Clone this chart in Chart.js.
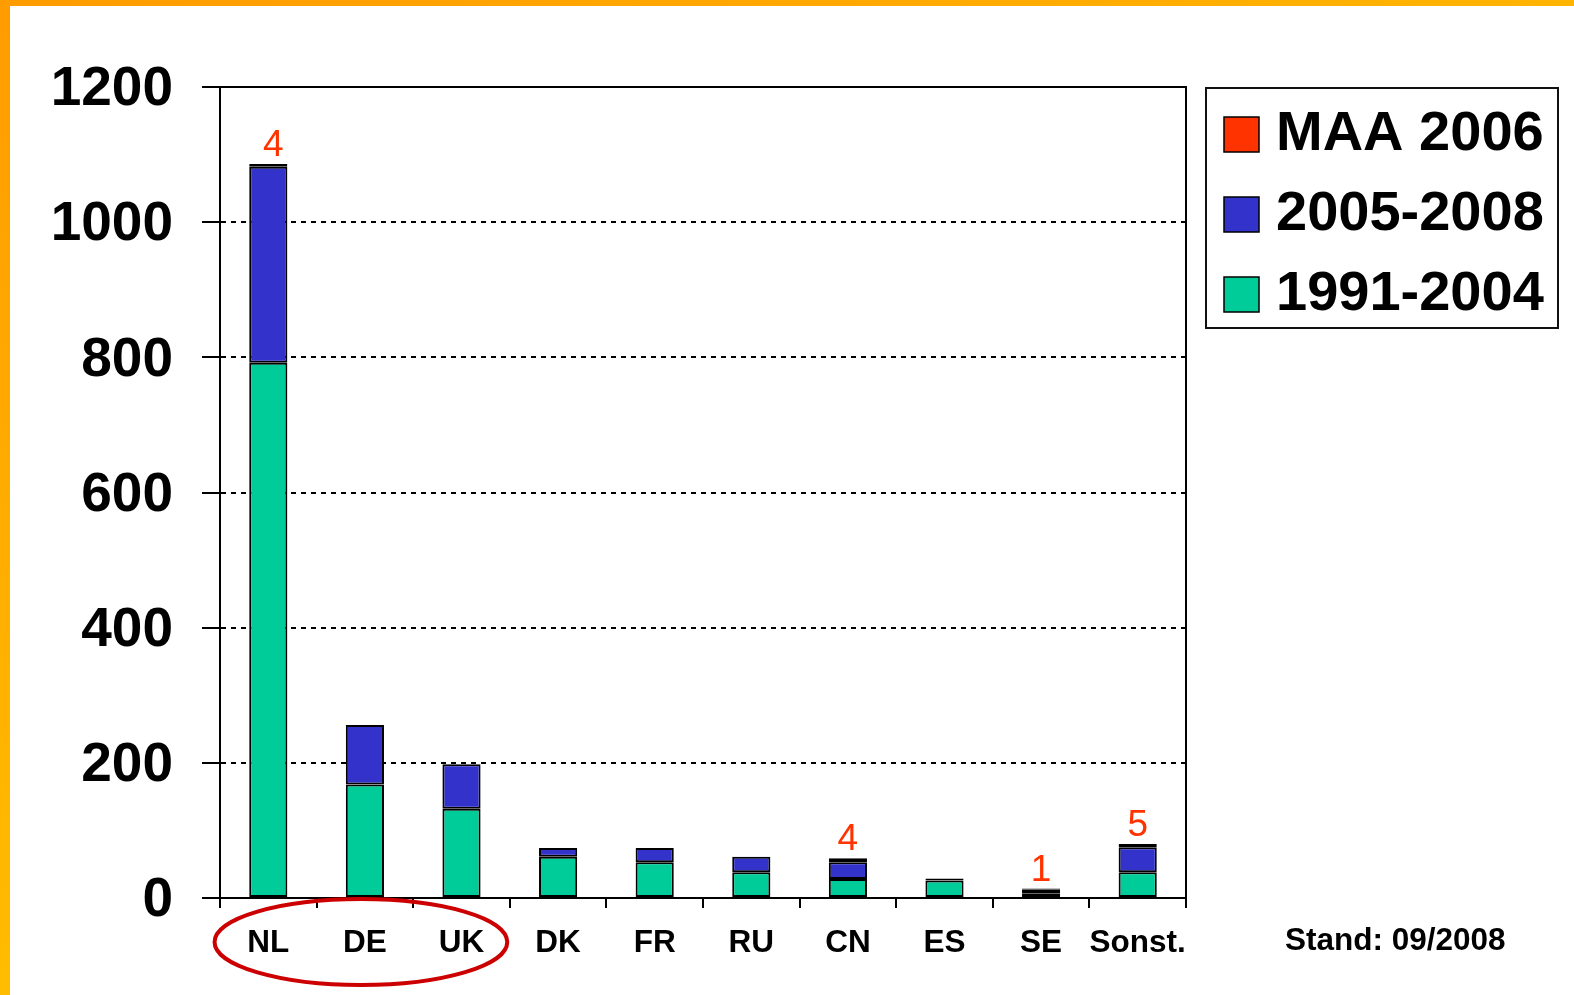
<!DOCTYPE html>
<html>
<head>
<meta charset="utf-8">
<style>
html,body{margin:0;padding:0;background:#fff;overflow:hidden}
canvas{display:block}
</style>
<script src="https://cdn.jsdelivr.net/npm/chart.js@4/dist/chart.umd.min.js"></script>
</head>
<body>
<canvas id="c" width="1574" height="995"></canvas>
<script>
// ---- data ----
const categories = ['NL','DE','UK','DK','FR','RU','CN','ES','SE','Sonst.'];
const series1991_2004 = [792,168,132,61,53,38,28,26,7,38];
const series2005_2008 = [290,88,66,13,21,23,25,3,6,37];
const seriesMAA2006 = [4,0,0,0,0,0,6,0,1,5];
const maaLabels = ['4','','','','','','4','','1','5'];
const seriesNames = ['1991-2004','2005-2008','MAA 2006'];
const seriesColors = ['#00CC99','#3333CC','#FF3300'];
const yMin = 0, yMax = 1200, yStep = 200;
const standText = 'Stand: 09/2008';

const FONT = "'Liberation Sans', Arial, sans-serif";

const decorPlugin = {
  id: 'decor',
  beforeDraw(chart) {
    const ctx = chart.ctx, W = chart.width, H = chart.height;
    ctx.save();
    ctx.fillStyle = '#fff';
    ctx.fillRect(0, 0, W, H);
    let g = ctx.createLinearGradient(0, 0, W, 0);
    g.addColorStop(0, '#FF9C00'); g.addColorStop(1, '#FFB400');
    ctx.fillStyle = g;
    ctx.fillRect(0, 0, W, 6);
    g = ctx.createLinearGradient(0, 0, 0, H);
    g.addColorStop(0, '#FF9C00'); g.addColorStop(1, '#FFBC00');
    ctx.fillStyle = g;
    ctx.fillRect(0, 0, 10, H);
    ctx.restore();
  },
  afterDraw(chart) {
    const ctx = chart.ctx, a = chart.chartArea;
    const xs = chart.scales.x;
    ctx.save();
    // plot frame top + right
    ctx.strokeStyle = '#000';
    ctx.lineWidth = 2;
    ctx.beginPath();
    ctx.moveTo(a.left, a.top);
    ctx.lineTo(a.right, a.top);
    ctx.lineTo(a.right, a.bottom);
    ctx.stroke();

    // MAA count labels above bars
    const topMeta = chart.getDatasetMeta(2);
    ctx.fillStyle = '#FF3300';
    ctx.font = '37px ' + FONT;
    ctx.textAlign = 'center';
    ctx.textBaseline = 'alphabetic';
    maaLabels.forEach((t, i) => {
      if (!t) return;
      const el = topMeta.data[i];
      ctx.fillText(t, el.x + (i === 0 ? 5 : 0), el.y - 8);
    });

    // red ellipse around NL, DE, UK
    const cw = xs.getPixelForValue(1) - xs.getPixelForValue(0);
    const cx = xs.getPixelForValue(1) - 4;
    ctx.strokeStyle = '#CC0000';
    ctx.lineWidth = 4;
    ctx.beginPath();
    ctx.ellipse(cx, a.bottom + 44, cw * 1.515, 43, 0, 0, Math.PI * 2);
    ctx.stroke();

    // legend
    const lx = a.right + 20, ly = a.top + 1, lw = 352, lh = 240;
    ctx.strokeStyle = '#111';
    ctx.lineWidth = 2;
    ctx.strokeRect(lx, ly, lw, lh);
    const order = [2, 1, 0];
    ctx.font = 'bold 56px ' + FONT;
    ctx.textAlign = 'left';
    ctx.textBaseline = 'middle';
    order.forEach((di, r) => {
      const cy = ly + 46 + r * 80;
      ctx.fillStyle = seriesColors[di];
      ctx.fillRect(lx + 18, cy - 17, 35, 35);
      ctx.strokeStyle = '#000';
      ctx.lineWidth = 1.5;
      ctx.strokeRect(lx + 18, cy - 17, 35, 35);
      ctx.fillStyle = '#000';
      ctx.fillText(seriesNames[di], lx + 70, cy + 1);
    });

    // stand text
    ctx.font = 'bold 31.5px ' + FONT;
    ctx.fillStyle = '#000';
    ctx.textBaseline = 'middle';
    ctx.fillText(standText, a.right + 99, a.bottom + 43);
    ctx.restore();
  }
};

const barCommon = {
  borderColor: '#000',
  borderWidth: 2,
  borderSkipped: false,
  categoryPercentage: 1.0,
  barPercentage: 0.395
};

new Chart(document.getElementById('c'), {
  type: 'bar',
  data: {
    labels: categories,
    datasets: [
      Object.assign({ label: seriesNames[0], data: series1991_2004, backgroundColor: seriesColors[0] }, barCommon),
      Object.assign({ label: seriesNames[1], data: series2005_2008, backgroundColor: seriesColors[1] }, barCommon),
      Object.assign({ label: seriesNames[2], data: seriesMAA2006, backgroundColor: seriesColors[2] }, barCommon)
    ]
  },
  options: {
    responsive: false,
    animation: false,
    devicePixelRatio: 1,
    layout: { padding: { left: 50, right: 388, top: 87, bottom: 0 } },
    plugins: { legend: { display: false }, tooltip: { enabled: false } },
    scales: {
      x: {
        stacked: true,
        afterFit(s) { s.height = 97; },
        grid: { display: true, drawOnChartArea: false, drawTicks: true, tickLength: 10, color: '#000', lineWidth: 2, offset: true },
        border: { display: true, color: '#000', width: 2 },
        ticks: { color: '#000', font: { family: FONT, weight: 'bold', size: 31.5 }, padding: 16, maxRotation: 0, autoSkip: false }
      },
      y: {
        stacked: true,
        min: yMin, max: yMax,
        afterFit(s) { s.width = 170; },
        ticks: { stepSize: yStep, color: '#000', font: { family: FONT, weight: 'bold', size: 55 }, padding: 29, labelOffset: 3, callback: v => String(v) },
        grid: { color: '#000', lineWidth: 2, drawTicks: true, tickLength: 18, tickBorderDash: [], tickWidth: 2, tickColor: '#000' },
        border: { display: true, color: '#000', width: 2, dash: [5, 5] }
      }
    }
  },
  plugins: [decorPlugin]
});
</script>
</body>
</html>
